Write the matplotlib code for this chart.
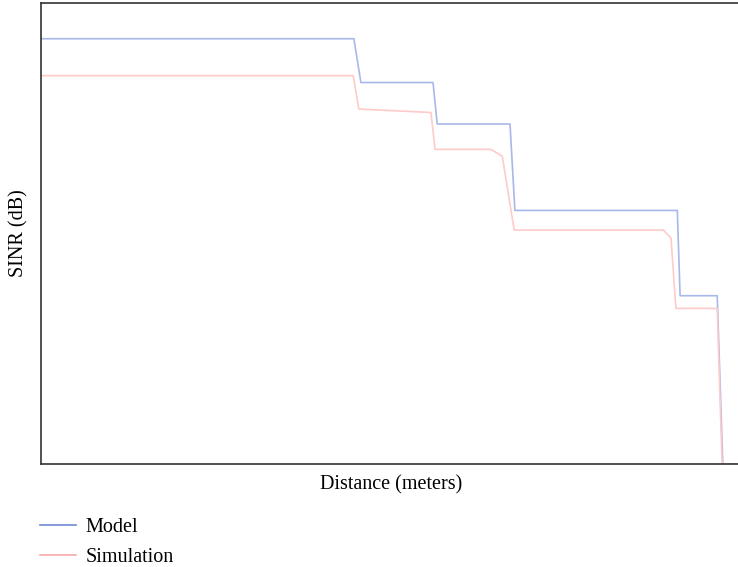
import matplotlib.pyplot as plt
from matplotlib.lines import Line2D

# distance (arbitrary units) and SINR (dB)
model_x = [0, 44.7, 45.7, 56.0, 56.6, 67.0, 67.7, 90.9, 91.3, 96.6, 97.4]
model_y = [36.9, 36.9, 33.1, 33.1, 29.5, 29.5, 22.0, 22.0, 14.6, 14.6, 0.0]

sim_x = [0, 44.6, 45.4, 55.7, 56.3, 64.3, 65.9, 67.6, 88.9, 90.0, 90.7, 96.6, 97.3, 99.4]
sim_y = [33.7, 33.7, 30.8, 30.5, 27.3, 27.3, 26.7, 20.3, 20.3, 19.6, 13.5, 13.5, 0.0, 0.0]

plt.rcParams['font.family'] = ['Liberation Serif', 'DejaVu Serif']

fig = plt.figure(figsize=(7.38, 5.67), dpi=100)
ax = fig.add_axes([41 / 738, 103 / 567, 700 / 738, 461 / 567])

ax.plot(model_x, model_y, color='#a8b8ea', lw=1.2)
ax.plot(sim_x, sim_y, color='#ffcaca', lw=1.2)

ax.set_xlim(0, 100)
ax.set_ylim(0, 40)
ax.set_xticks([])
ax.set_yticks([])
for s in ax.spines.values():
    s.set_color('#333333')
    s.set_linewidth(1.2)

ax.set_xlabel('Distance (meters)', fontsize=14.5, labelpad=8)
ax.set_ylabel('SINR (dB)', fontsize=14.5, labelpad=9)

handles = [Line2D([], [], color='#6f8ad6', lw=1.2),
           Line2D([], [], color='#f7a9a9', lw=1.2)]
fig.legend(handles, ['Model', 'Simulation'], loc='upper left',
           bbox_to_anchor=(22 / 738, 1 - 500 / 567), frameon=False,
           fontsize=14.5, handlelength=1.8, handletextpad=0.45, labelspacing=0.55)

fig.savefig('out.png', dpi=100)
